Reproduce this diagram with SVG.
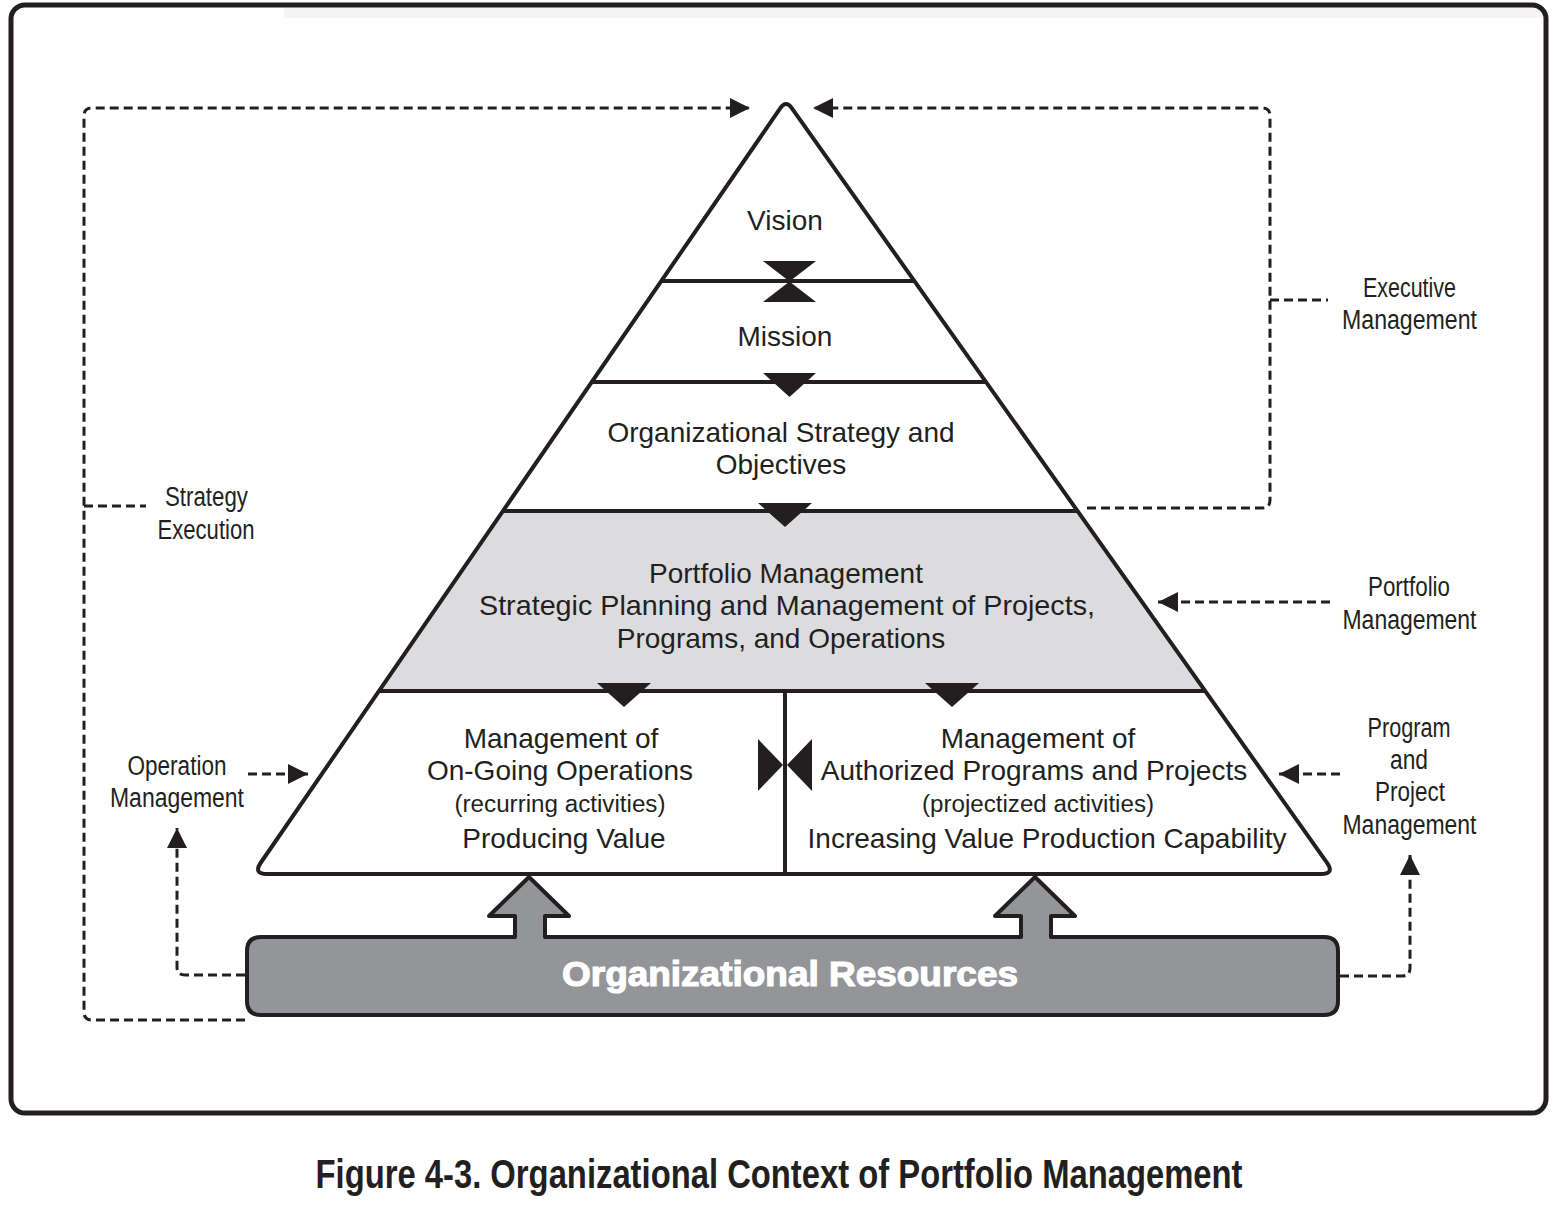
<svg xmlns="http://www.w3.org/2000/svg" width="1554" height="1210" viewBox="0 0 1554 1210">
<defs>
<style>
.ink{fill:#231f20}
.line{stroke:#231f20;stroke-width:4;fill:none}
.dash{stroke:#231f20;stroke-width:3;fill:none;stroke-dasharray:9 5;stroke-linejoin:round}
.t{font-family:"Liberation Sans",Arial,sans-serif;font-size:28px;fill:#231f20;text-anchor:middle}
.ts{font-family:"Liberation Sans",Arial,sans-serif;font-size:23px;fill:#231f20;text-anchor:middle}
.lab{font-family:"Liberation Sans",Arial,sans-serif;font-size:27px;fill:#231f20;text-anchor:middle}
.cap{font-family:"Liberation Sans Narrow","Liberation Sans",sans-serif;font-size:40px;font-weight:bold;fill:#231f20;text-anchor:middle}
.res{font-family:"Liberation Sans",Arial,sans-serif;font-size:35px;font-weight:bold;fill:#ffffff;stroke:#ffffff;stroke-width:1.2;text-anchor:middle}
</style>
<marker id="ah" viewBox="0 0 20 20" refX="20" refY="10" markerWidth="20" markerHeight="20" markerUnits="userSpaceOnUse" orient="auto">
<path d="M0,0 L20,10 L0,20 Z" fill="#231f20"/>
</marker>
</defs>
<rect x="0" y="0" width="1554" height="1210" fill="#ffffff"/>
<rect x="284" y="7" width="1258" height="11" fill="#f5f4f4"/>
<rect id="frame" x="11" y="5" width="1535" height="1108" rx="14" fill="none" stroke="#231f20" stroke-width="5"/>

<g id="pyramid">
<path d="M780.3 108.2 Q786 100 791.8 108.2 L1326.9 862.6 Q1335 874 1321 874 L267 874 Q253 874 260.9 862.5 Z" fill="#ffffff"/>
<polygon points="503.3,511 1077.2,511 1205,691 379.2,691" fill="#dcdcde"/>
<path class="line" d="M780.3 108.2 Q786 100 791.8 108.2 L1326.9 862.6 Q1335 874 1321 874 L267 874 Q253 874 260.9 862.5 Z" stroke-linejoin="round"/>
<line class="line" x1="661.9" y1="281" x2="913.8" y2="281"/>
<line class="line" x1="592.2" y1="382" x2="985.6" y2="382"/>
<line class="line" x1="503.3" y1="511" x2="1077.2" y2="511"/>
<line class="line" x1="379.2" y1="691" x2="1205" y2="691"/>
<line class="line" x1="785" y1="691" x2="785" y2="874"/>
<path class="ink" d="M763 261 L816 261 L789.5 281.5 L816 302 L763 302 L789.5 281.5 Z"/>
<polygon class="ink" points="763,373 816,373 789.5,397"/>
<polygon class="ink" points="758,503 812,503 785,527"/>
<polygon class="ink" points="597,683 651,683 624,707"/>
<polygon class="ink" points="925,683 979,683 952,707"/>
<polygon class="ink" points="758,739 758,791 783,765"/>
<polygon class="ink" points="812,739 812,791 787,765"/>
</g>

<g id="vision"><text class="t" x="785" y="230">Vision</text></g>
<g id="mission"><text class="t" x="785" y="346">Mission</text></g>
<g id="strategy"><text class="t" x="781" y="442">Organizational Strategy and</text><text class="t" x="781" y="474">Objectives</text></g>
<g id="portfolio"><text class="t" x="786" y="583">Portfolio Management</text><text class="t" x="787" y="615" textLength="616" lengthAdjust="spacingAndGlyphs">Strategic Planning and Management of Projects,</text><text class="t" x="781" y="648">Programs, and Operations</text></g>
<g id="operations"><text class="t" x="561" y="748">Management of</text><text class="t" x="560" y="780">On-Going Operations</text><text class="ts" x="560" y="812" textLength="211" lengthAdjust="spacingAndGlyphs">(recurring activities)</text><text class="t" x="564" y="848">Producing Value</text></g>
<g id="programs"><text class="t" x="1038" y="748">Management of</text><text class="t" x="1034" y="780">Authorized Programs and Projects</text><text class="ts" x="1038" y="812" textLength="232" lengthAdjust="spacingAndGlyphs">(projectized activities)</text><text class="t" x="1047" y="848">Increasing Value Production Capability</text></g>

<g id="resources">
<path d="M261 937 L515 937 L515 916 L489 916 L529 877 L569 916 L545 916 L545 937 L1021 937 L1021 916 L995 916 L1035 877 L1075 916 L1051 916 L1051 937 L1324 937 Q1338 937 1338 951 L1338 1001 Q1338 1015 1324 1015 L261 1015 Q247 1015 247 1001 L247 951 Q247 937 261 937 Z" fill="#939598" stroke="#231f20" stroke-width="4" stroke-linejoin="round"/>
<text class="res" x="790" y="986" textLength="456" lengthAdjust="spacingAndGlyphs">Organizational Resources</text>
</g>

<g id="label-executive"><text class="lab" x="1409.5" y="297" textLength="93" lengthAdjust="spacingAndGlyphs">Executive</text><text class="lab" x="1409.5" y="329" textLength="135" lengthAdjust="spacingAndGlyphs">Management</text></g>
<g id="label-strategy"><text class="lab" x="206.5" y="506" textLength="83" lengthAdjust="spacingAndGlyphs">Strategy</text><text class="lab" x="206" y="539" textLength="97" lengthAdjust="spacingAndGlyphs">Execution</text></g>
<g id="label-portfolio"><text class="lab" x="1409" y="596" textLength="82" lengthAdjust="spacingAndGlyphs">Portfolio</text><text class="lab" x="1409.5" y="629" textLength="134" lengthAdjust="spacingAndGlyphs">Management</text></g>
<g id="label-program"><text class="lab" x="1409" y="737" textLength="83" lengthAdjust="spacingAndGlyphs">Program</text><text class="lab" x="1409" y="769" textLength="38" lengthAdjust="spacingAndGlyphs">and</text><text class="lab" x="1410" y="801" textLength="70" lengthAdjust="spacingAndGlyphs">Project</text><text class="lab" x="1409.5" y="834" textLength="134" lengthAdjust="spacingAndGlyphs">Management</text></g>
<g id="label-operation"><text class="lab" x="177" y="775" textLength="99" lengthAdjust="spacingAndGlyphs">Operation</text><text class="lab" x="177" y="807" textLength="134" lengthAdjust="spacingAndGlyphs">Management</text></g>

<g id="connectors">
<path class="dash" d="M245 1020 L92 1020 Q84 1020 84 1012 L84 116 Q84 108 92 108 L750 108" marker-end="url(#ah)"/>
<path class="dash" d="M84 506 L146 506"/>
<path class="dash" d="M1087 508 L1262 508 Q1270 508 1270 500 L1270 116 Q1270 108 1262 108 L813 108" marker-end="url(#ah)"/>
<path class="dash" d="M1270 300 L1328 300"/>
<path class="dash" d="M1330 602 L1158 602" marker-end="url(#ah)"/>
<path class="dash" d="M1340 774 L1279 774" marker-end="url(#ah)"/>
<path class="dash" d="M1340 976 L1402 976 Q1410 976 1410 968 L1410 855" marker-end="url(#ah)"/>
<path class="dash" d="M245 975 L185 975 Q177 975 177 967 L177 828" marker-end="url(#ah)"/>
<path class="dash" d="M248 774 L308 774" marker-end="url(#ah)"/>
</g>

<text class="cap" x="779" y="1188" textLength="927" lengthAdjust="spacingAndGlyphs">Figure 4-3. Organizational Context of Portfolio Management</text>
</svg>
